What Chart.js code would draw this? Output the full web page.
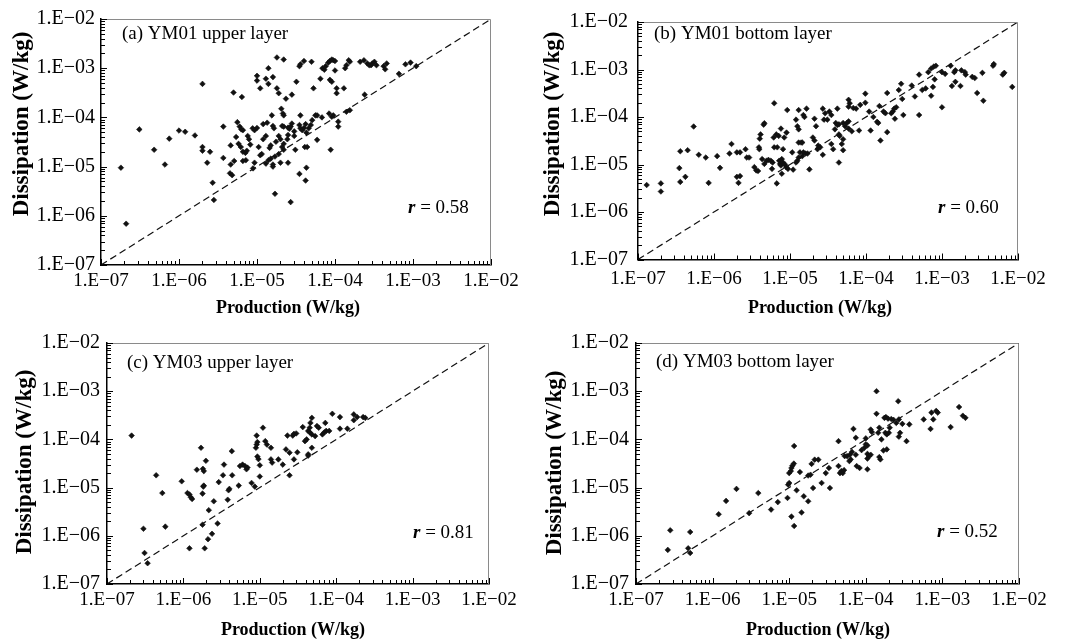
<!DOCTYPE html>
<html><head><meta charset="utf-8">
<script src="https://cdn.jsdelivr.net/npm/chart.js@4.4.1/dist/chart.umd.min.js"></script>
<style>
html,body{margin:0;padding:0;background:#fff;}
#wrap{position:relative;width:1069px;height:641px;overflow:hidden;background:#fff;}
canvas{position:absolute;left:0;top:0;}
</style></head><body><div id="wrap">
<canvas id="c0" width="1069" height="641"></canvas>
<canvas id="c1" width="1069" height="641"></canvas>
<canvas id="c2" width="1069" height="641"></canvas>
<canvas id="c3" width="1069" height="641"></canvas>
</div>
<script>
// ---------- data ----------
const tickLabels = ['1.E\u221207','1.E\u221206','1.E\u221205','1.E\u221204','1.E\u221203','1.E\u221202'];
const panelTitles = ['(a) YM01 upper layer','(b) YM01 bottom layer','(c) YM03 upper layer','(d) YM03 bottom layer'];
const rValues = ['0.58','0.60','0.81','0.52'];
const xAxisTitle = 'Production (W/kg)';
const yAxisTitle = 'Dissipation (W/kg)';
const oneToOne = [1e-7, 1e-2];

const ym01Upper = [
[1.8e-7,9.5e-6],[2.1e-7,6.9e-7],[3.1e-7,5.7e-5],[4.8e-7,2.2e-5],[6.6e-7,1.1e-5],[7.5e-7,3.7e-5],[1.0e-6,5.4e-5],[1.2e-6,5.1e-5],[1.6e-6,4.3e-5],[2.0e-6,4.8e-4],[2.0e-6,2.5e-5],[2.0e-6,2.1e-5],[2.3e-6,1.2e-5],[2.5e-6,2.0e-5],[2.7e-6,4.7e-6],[2.8e-6,2.1e-6],[3.7e-6,6.5e-5],[3.7e-6,1.5e-5],[5.0e-6,3.2e-4],[6.4e-6,2.6e-4],[4.6e-6,2.7e-5],[4.6e-6,1.1e-5],[4.5e-6,7.3e-6],[4.8e-6,6.7e-6],[5.1e-6,1.3e-5],[5.4e-6,4.0e-5],[5.6e-6,8.0e-5],[5.8e-6,2.9e-5],[6.0e-6,6.5e-5],[6.3e-6,5.7e-5],[6.6e-6,5.5e-5],[6.2e-6,2.5e-5],[6.6e-6,2.0e-5],[7.1e-6,1.9e-5],[7.4e-6,2.1e-5],[6.6e-6,1.3e-5],[7.2e-6,1.35e-5],[7.6e-6,4.2e-5],[7.9e-6,3.6e-5],[8.2e-6,2.8e-5],[8.8e-6,6.0e-5],[9.3e-6,5.5e-5],[1.0e-5,6.1e-5],[8.9e-6,9.2e-6],[9.3e-6,1.2e-5],[1.0e-5,7.0e-4],[1.0e-5,5.6e-4],[1.1e-5,3.9e-4],[1.05e-5,2.5e-5],[1.1e-5,1.7e-5],[1.15e-5,1.8e-5],[1.2e-5,3.6e-5],[1.3e-5,4.2e-5],[1.2e-5,7.3e-5],[1.35e-5,7.8e-5],[1.3e-5,6.1e-4],[1.4e-5,4.8e-4],[1.4e-5,1.0e-3],[1.3e-5,1.15e-5],[1.4e-5,1.35e-5],[1.5e-5,1.45e-5],[1.55e-5,1.1e-4],[1.6e-5,6.6e-4],[1.6e-5,6.7e-5],[1.65e-5,6.0e-5],[1.5e-5,2.7e-5],[1.45e-5,2.4e-5],[1.6e-5,1.1e-5],[1.6e-5,1.0e-5],[1.7e-5,1.6e-5],[1.7e-5,2.8e-6],[1.8e-5,1.65e-3],[1.8e-5,3.9e-4],[1.9e-5,3.1e-4],[1.75e-5,3.2e-5],[1.9e-5,4.2e-5],[2.0e-5,3.6e-5],[1.9e-5,1.8e-5],[2.0e-5,1.2e-5],[2.05e-5,1.5e-4],[2.15e-5,1.2e-4],[2.2e-5,1.1e-4],[2.2e-5,1.5e-3],[2.1e-5,6.7e-5],[2.2e-5,6.5e-5],[2.1e-5,2.5e-5],[2.2e-5,2.2e-5],[2.2e-5,2.9e-5],[2.35e-5,2.4e-4],[2.5e-5,6.2e-5],[2.6e-5,5.9e-5],[2.7e-5,6.5e-5],[2.5e-5,4.4e-5],[2.45e-5,3.6e-5],[2.5e-5,1.2e-5],[2.7e-5,1.9e-6],[2.8e-5,2.9e-4],[2.8e-5,7.5e-5],[3.0e-5,5.2e-5],[3.0e-5,4.2e-5],[3.1e-5,2.2e-5],[3.2e-5,5.3e-4],[3.5e-5,7.1e-6],[3.5e-5,1.1e-3],[3.6e-5,1.2e-3],[3.6e-5,1.1e-4],[3.5e-5,7.0e-5],[3.6e-5,6.0e-5],[3.8e-5,5.5e-5],[4.0e-5,6.1e-5],[4.2e-5,7.3e-5],[4.0e-5,1.4e-3],[4.1e-5,2.5e-5],[4.4e-5,2.5e-5],[4.2e-5,5.2e-6],[4.3e-5,9.5e-6],[4.3e-5,4.9e-5],[4.6e-5,6.0e-5],[4.9e-5,7.0e-5],[5.1e-5,8.8e-5],[5.0e-5,1.35e-3],[5.3e-5,3.9e-4],[5.6e-5,1.1e-4],[5.9e-5,1.1e-4],[5.9e-5,3.5e-5],[6.5e-5,6.1e-4],[6.8e-5,1.0e-4],[6.9e-5,1.0e-3],[7.3e-5,9.3e-4],[7.6e-5,1.1e-3],[8.2e-5,1.3e-3],[8.6e-5,1.4e-3],[9.1e-5,1.5e-3],[9.5e-5,1.45e-3],[1.0e-4,1.4e-3],[8.6e-5,5.8e-4],[9.1e-5,5.3e-4],[8.4e-5,1.2e-4],[9.1e-5,1.03e-4],[9.5e-5,1.1e-4],[8.8e-5,2.2e-5],[1.0e-4,9.0e-4],[1.05e-4,3.9e-4],[1.05e-4,3.1e-4],[1.1e-4,8.2e-5],[1.1e-4,6.5e-5],[1.3e-4,3.9e-4],[1.35e-4,1.0e-3],[1.4e-4,1.15e-3],[1.5e-4,1.45e-3],[1.55e-4,1.35e-3],[1.4e-4,1.3e-4],[1.55e-4,1.4e-4],[2.1e-4,1.35e-3],[2.35e-4,1.45e-3],[2.6e-4,1.25e-3],[2.75e-4,1.15e-3],[2.9e-4,1.15e-3],[3.0e-4,1.25e-3],[3.2e-4,1.35e-3],[3.4e-4,1.15e-3],[2.4e-4,2.9e-4],[4.2e-4,1.1e-3],[4.6e-4,1.25e-3],[4.4e-4,9.5e-4],[6.6e-4,7.7e-4],[8.0e-4,1.2e-3],[9.3e-4,1.3e-3],[1.1e-3,1.1e-3]
];

const ym01Bottom = [
[1.3e-7,3.7e-6],[2.0e-7,4.0e-6],[2.0e-7,2.7e-6],[3.5e-7,8.4e-6],[3.6e-7,1.9e-5],[3.6e-7,4.3e-6],[4.2e-7,5.5e-6],[4.5e-7,2.0e-5],[5.4e-7,6.3e-5],[6.3e-7,1.6e-5],[7.8e-7,1.4e-5],[8.5e-7,4.1e-6],[1.1e-6,1.5e-5],[1.2e-6,8.5e-6],[1.6e-6,1.7e-5],[1.7e-6,2.7e-5],[2.0e-6,1.8e-5],[2.0e-6,5.5e-6],[2.1e-6,4.1e-6],[2.2e-6,5.7e-6],[2.2e-6,1.8e-5],[2.6e-6,2.1e-5],[2.7e-6,1.4e-5],[2.9e-6,1.4e-5],[3.4e-6,8.8e-6],[3.6e-6,7.5e-6],[3.8e-6,7.3e-6],[3.9e-6,2.3e-5],[4.0e-6,3.5e-5],[4.1e-6,4.3e-5],[3.95e-6,2.1e-5],[4.5e-6,6.9e-5],[4.6e-6,7.4e-5],[4.3e-6,1.3e-5],[4.6e-6,1.03e-5],[4.9e-6,1.2e-5],[5.2e-6,1.25e-5],[5.6e-6,1.2e-5],[5.9e-6,1.1e-5],[5.8e-6,8.1e-6],[6.2e-6,1.95e-4],[6.1e-6,3.7e-5],[6.6e-6,4.3e-5],[7.1e-6,4.0e-5],[6.2e-6,2.3e-5],[6.8e-6,2.3e-5],[6.7e-6,4.0e-6],[7.2e-6,1.2e-5],[7.4e-6,1.03e-5],[7.6e-6,9.5e-6],[8.1e-6,1.1e-5],[8.6e-6,1.0e-5],[7.8e-6,1.3e-5],[7.6e-6,5.7e-5],[7.8e-6,6.4e-6],[8.1e-6,2.1e-5],[8.4e-6,3.7e-5],[9.0e-6,4.7e-5],[9.2e-6,1.4e-4],[8.9e-6,8.8e-6],[9.4e-6,8.1e-6],[1.1e-5,7.8e-6],[1.07e-5,1.8e-5],[1.2e-5,1.1e-5],[1.25e-5,1.2e-5],[1.3e-5,1.4e-5],[1.2e-5,8.8e-5],[1.25e-5,6.4e-5],[1.3e-5,5.5e-5],[1.3e-5,1.4e-4],[1.3e-5,2.9e-5],[1.4e-5,2.9e-5],[1.45e-5,2.9e-5],[1.35e-5,1.8e-5],[1.45e-5,1.5e-5],[1.5e-5,1.1e-4],[1.55e-5,1.0e-4],[1.5e-5,1.8e-5],[1.6e-5,1.7e-5],[1.7e-5,1.7e-5],[1.65e-5,1.5e-4],[1.8e-5,7.9e-6],[2.0e-5,3.7e-5],[2.1e-5,3.2e-5],[2.1e-5,9.2e-5],[2.2e-5,6.4e-5],[2.3e-5,2.1e-5],[2.35e-5,2.5e-5],[2.5e-5,2.3e-5],[2.7e-5,1.6e-5],[2.7e-5,1.5e-4],[2.9e-5,1.2e-4],[2.8e-5,8.8e-5],[3.1e-5,8.8e-5],[3.3e-5,1.3e-4],[3.5e-5,1.1e-4],[3.5e-5,2.7e-5],[3.7e-5,2.1e-5],[3.9e-5,5.5e-5],[4.0e-5,7.5e-5],[4.2e-5,6.8e-5],[4.4e-5,7.0e-5],[4.2e-5,1.5e-4],[4.4e-5,4.3e-5],[4.5e-5,4.0e-5],[4.4e-5,1.1e-5],[4.8e-5,2.7e-5],[5.0e-5,2.0e-5],[5.0e-5,3.4e-5],[5.0e-5,7.5e-5],[5.3e-5,6.4e-5],[5.6e-5,7.5e-5],[5.9e-5,8.1e-5],[5.9e-5,5.7e-5],[5.9e-5,2.3e-4],[6.1e-5,1.95e-4],[5.9e-5,1.65e-4],[6.5e-5,5.0e-5],[6.8e-5,1.55e-4],[7.4e-5,1.5e-4],[8.1e-5,5.2e-5],[8.4e-5,1.8e-4],[9.8e-5,3.1e-4],[9.8e-5,2.0e-4],[1.1e-4,1.3e-4],[1.15e-4,5.2e-5],[1.25e-4,1.0e-4],[1.4e-4,7.9e-5],[1.45e-4,7.5e-5],[1.5e-4,1.7e-4],[1.55e-4,3.2e-5],[1.7e-4,1.3e-4],[1.8e-4,1.2e-4],[1.9e-4,3.2e-4],[1.9e-4,4.8e-5],[2.15e-4,1.2e-4],[2.25e-4,1.3e-4],[2.35e-4,1.5e-4],[2.4e-4,9.2e-5],[2.5e-4,1.6e-4],[2.7e-4,3.7e-4],[2.9e-4,5.0e-4],[3.0e-4,2.4e-4],[3.1e-4,1.1e-4],[4.0e-4,4.6e-4],[4.4e-4,2.7e-4],[5.0e-4,1.1e-4],[5.0e-4,7.8e-4],[5.5e-4,3.7e-4],[6.1e-4,4.0e-4],[6.6e-4,8.8e-4],[7.2e-4,1.05e-3],[7.8e-4,1.15e-3],[7.2e-4,2.8e-4],[7.6e-4,4.3e-4],[8.0e-4,6.2e-4],[8.3e-4,1.2e-3],[1.0e-3,8.8e-4],[1.1e-3,8.1e-4],[1.0e-3,1.6e-4],[1.3e-3,1.2e-3],[1.35e-3,4.5e-4],[1.45e-3,8.8e-4],[1.5e-3,5.5e-4],[1.5e-3,9.6e-4],[1.75e-3,4.5e-4],[1.8e-3,9.6e-4],[2.0e-3,8.8e-4],[2.05e-3,7.8e-4],[2.5e-3,7.0e-4],[2.7e-3,6.6e-4],[2.9e-3,3.2e-4],[3.4e-3,8.5e-4],[3.5e-3,2.2e-4],[4.7e-3,1.2e-3],[4.8e-3,1.3e-3],[6.3e-3,7.8e-4],[6.6e-3,8.5e-4],[8.4e-3,4.3e-4]
];

const ym03Upper = [
[2.1e-7,1.2e-4],[3.0e-7,1.4e-6],[3.1e-7,4.4e-7],[3.4e-7,2.7e-7],[4.4e-7,1.8e-5],[5.3e-7,7.7e-6],[5.8e-7,1.55e-6],[9.5e-7,1.35e-5],[1.13e-6,7.7e-6],[1.2e-6,7.2e-6],[1.25e-6,6.3e-6],[1.3e-6,5.8e-6],[1.2e-6,5.5e-7],[1.5e-6,2.35e-5],[1.7e-6,6.7e-5],[1.8e-6,2.45e-5],[1.85e-6,2.2e-5],[1.82e-6,1.05e-5],[1.85e-6,1.1e-5],[1.78e-6,7.5e-6],[1.78e-6,1.7e-6],[1.9e-6,5.5e-7],[1.97e-6,3.6e-5],[2.1e-6,8.5e-7],[2.15e-6,3.4e-6],[2.37e-6,1.1e-6],[2.5e-6,5.2e-6],[2.8e-6,1.8e-6],[2.9e-6,1.3e-5],[3.3e-6,1.8e-5],[3.4e-6,3.0e-5],[3.8e-6,5.6e-6],[3.9e-6,8.8e-6],[4.0e-6,9.4e-6],[4.3e-6,5.7e-5],[4.35e-6,1.8e-5],[5.3e-6,1.1e-5],[5.5e-6,2.8e-5],[5.95e-6,3.0e-5],[6.4e-6,2.8e-5],[6.7e-6,2.4e-5],[6.9e-6,2.6e-5],[7.8e-6,1.25e-5],[8.6e-6,1.05e-5],[8.9e-6,6.7e-5],[9.1e-6,7.8e-5],[9.3e-6,8.8e-5],[9.1e-6,1.2e-4],[9.3e-6,4.4e-5],[9.6e-6,3.9e-5],[1.0e-5,2.9e-5],[1.0e-5,1.7e-5],[1.1e-5,1.75e-4],[1.18e-5,9.2e-5],[1.24e-5,7.8e-5],[1.4e-5,6.7e-5],[1.4e-5,3.85e-5],[1.45e-5,3.3e-5],[1.75e-5,3.85e-5],[2.0e-5,3.0e-5],[2.2e-5,6.2e-5],[2.3e-5,1.2e-4],[2.45e-5,5.3e-5],[2.45e-5,1.8e-5],[2.7e-5,1.2e-4],[2.8e-5,1.3e-4],[3.0e-5,1.33e-4],[2.8e-5,3.85e-5],[3.1e-5,5.4e-5],[3.65e-5,1.8e-4],[3.9e-5,9.2e-5],[4.1e-5,1.0e-4],[4.3e-5,4.9e-5],[4.3e-5,4.6e-5],[4.3e-5,1.5e-4],[4.5e-5,1.75e-4],[4.6e-5,2.2e-4],[4.8e-5,2.8e-4],[4.5e-5,1.4e-4],[4.8e-5,1.27e-4],[4.8e-5,6.7e-5],[5.3e-5,1.17e-4],[5.6e-5,1.9e-4],[5.9e-5,1.75e-4],[6.6e-5,1.27e-4],[7.0e-5,1.4e-4],[7.4e-5,1.5e-4],[7.2e-5,2.2e-4],[8.1e-5,1.5e-4],[8.9e-5,3.4e-4],[1.12e-4,2.9e-4],[1.12e-4,1.67e-4],[1.4e-4,1.67e-4],[1.7e-4,3.3e-4],[1.7e-4,2.5e-4],[1.88e-4,2.9e-4],[2.25e-4,2.9e-4],[2.4e-4,2.8e-4]
];

const ym03Bottom = [
[2.6e-7,5.1e-7],[2.8e-7,1.3e-6],[4.8e-7,5.5e-7],[5.1e-7,4.4e-7],[5.1e-7,1.2e-6],[1.2e-6,2.8e-6],[1.5e-6,5.3e-6],[2.05e-6,9.4e-6],[3.0e-6,2.95e-6],[3.95e-6,7.7e-6],[5.8e-6,3.5e-6],[7.1e-6,5.0e-6],[9.5e-6,6.1e-6],[9.7e-6,1.15e-5],[1.0e-5,1.25e-5],[1.0e-5,2.0e-5],[1.05e-5,2.2e-5],[1.07e-5,2.55e-5],[1.1e-5,2.85e-5],[1.15e-5,3.15e-5],[1.07e-5,2.5e-6],[1.16e-5,7.3e-5],[1.16e-5,1.6e-6],[1.25e-5,8.8e-6],[1.38e-5,2.1e-5],[1.45e-5,3.05e-6],[1.55e-5,6.6e-6],[1.77e-5,5.2e-6],[1.77e-5,1.78e-5],[1.9e-5,1.85e-5],[1.96e-5,3.1e-5],[2.05e-5,9.8e-6],[2.15e-5,3.8e-5],[2.4e-5,3.8e-5],[2.65e-5,1.25e-5],[3.0e-5,2.0e-5],[3.3e-5,2.55e-5],[3.4e-5,9.8e-6],[4.4e-5,9.2e-5],[4.4e-5,2.8e-5],[4.6e-5,2.0e-5],[4.8e-5,2.2e-5],[5.0e-5,2.0e-5],[5.2e-5,2.3e-5],[5.3e-5,4.5e-5],[5.7e-5,4.5e-5],[6.2e-5,4.8e-5],[6.6e-5,5.5e-5],[6.1e-5,3.55e-5],[6.35e-5,3.85e-5],[6.9e-5,1.65e-4],[7.4e-5,1.08e-4],[7.4e-5,4.8e-5],[7.6e-5,2.8e-5],[8.3e-5,2.55e-5],[8.8e-5,6.0e-5],[9.6e-5,6.7e-5],[1.0e-4,7.9e-5],[1.05e-4,7.5e-5],[1.0e-4,1.05e-4],[1.05e-4,5.0e-5],[1.1e-4,4.5e-5],[1.16e-4,4.8e-5],[1.05e-4,2.4e-5],[1.05e-4,4.0e-5],[1.16e-4,1.6e-4],[1.2e-4,1.42e-4],[1.38e-4,1.0e-3],[1.38e-4,3.4e-4],[1.45e-4,1.37e-4],[1.5e-4,4.3e-5],[1.55e-4,3.85e-5],[1.5e-4,1.75e-4],[1.6e-4,1.0e-4],[1.7e-4,5.9e-5],[1.8e-4,1.37e-4],[1.88e-4,1.27e-4],[1.75e-4,2.8e-4],[1.83e-4,2.9e-4],[1.95e-4,2.7e-4],[1.88e-4,6.2e-5],[2.0e-4,1.37e-4],[2.05e-4,1.75e-4],[2.15e-4,2.65e-4],[2.3e-4,2.55e-4],[2.5e-4,2.2e-4],[2.7e-4,2.6e-4],[2.65e-4,6.2e-4],[2.7e-4,1.14e-4],[2.8e-4,1.37e-4],[3.0e-4,2.1e-4],[3.4e-4,9.2e-5],[3.7e-4,2.05e-4],[5.7e-4,2.6e-4],[7.0e-4,1.65e-4],[7.2e-4,3.6e-4],[7.6e-4,2.6e-4],[8.3e-4,3.9e-4],[8.7e-4,3.6e-4],[1.28e-3,1.8e-4],[1.65e-3,4.7e-4],[1.85e-3,3.1e-4],[2.0e-3,2.8e-4]
];

const panelData = [ym01Upper, ym01Bottom, ym03Upper, ym03Bottom];

// ---------- layout (pixels) ----------
const layoutSpec = [
  {l:101, r:491,  t:19,  b:265,   yPad:6,  xPad:4.6, title:[122,34],  rPos:[408,208], xt:[288,308], yt:[22.5,124]},
  {l:638, r:1018, t:19,  b:259.5, yPad:10, xPad:8.6, title:[654,34],  rPos:[938,208], xt:[820,308], yt:[553,124]},
  {l:107, r:489,  t:343, b:584,   yPad:7,  xPad:4.6, title:[127,363], rPos:[413,533], xt:[293,630], yt:[25,462]},
  {l:636, r:1019, t:343, b:584,   yPad:7,  xPad:4.6, title:[656,362], rPos:[937,532], xt:[818,630], yt:[555,463]}
];
const W = 1069, H = 641, YAXW = 90, XAXH = 40;
const FONT = '"Liberation Serif", "Times New Roman", serif';

function logTicks() {
  const out = [];
  for (let e = -7; e <= -3; e++) for (let m = 1; m <= 9; m++) out.push(Number(m + 'e' + e));
  out.push(1e-2);
  return out.map(v => ({value: v}));
}
function decadeIndex(v) {
  const e = Math.log10(v), r = Math.round(e);
  return Math.abs(e - r) < 1e-9 ? r + 7 : -1;
}

const framePlugin = {
  id: 'frame',
  afterDraw(chart, args, opts) {
    const ctx = chart.ctx, ca = chart.chartArea, xs = chart.scales.x, ys = chart.scales.y;
    const i = opts.index, L = layoutSpec[i];
    ctx.save();
    ctx.strokeStyle = '#8a8a8a'; ctx.lineWidth = 1;
    ctx.beginPath();
    ctx.moveTo(ca.left, ca.top + 0.5); ctx.lineTo(ca.right - 0.5, ca.top + 0.5); ctx.lineTo(ca.right - 0.5, ca.bottom);
    ctx.stroke();
    ctx.strokeStyle = '#000'; ctx.lineWidth = 1;
    ctx.beginPath();
    xs.ticks.forEach(t => {
      const px = Math.round(xs.getPixelForValue(t.value)) + 0.5;
      const len = decadeIndex(t.value) >= 0 ? 6 : 4;
      ctx.moveTo(px, ca.bottom); ctx.lineTo(px, ca.bottom - len);
    });
    ys.ticks.forEach(t => {
      const py = Math.round(ys.getPixelForValue(t.value)) + 0.5;
      const len = decadeIndex(t.value) >= 0 ? 6 : 4;
      ctx.moveTo(ca.left, py); ctx.lineTo(ca.left + len, py);
    });
    ctx.stroke();
    ctx.fillStyle = '#000'; ctx.textBaseline = 'middle'; ctx.textAlign = 'left';
    ctx.font = '19px ' + FONT;
    ctx.fillText(panelTitles[i], L.title[0], L.title[1]);
    ctx.font = 'italic bold 19px ' + FONT;
    ctx.fillText('r', L.rPos[0], L.rPos[1]);
    const rw = ctx.measureText('r').width;
    ctx.font = '19px ' + FONT;
    ctx.fillText(' = ' + rValues[i], L.rPos[0] + rw, L.rPos[1]);
    ctx.textAlign = 'center';
    ctx.font = 'bold 18px ' + FONT;
    ctx.fillText(xAxisTitle, L.xt[0], L.xt[1]);
    ctx.translate(L.yt[0], L.yt[1]);
    ctx.rotate(-Math.PI / 2);
    ctx.font = 'bold 23px ' + FONT;
    ctx.fillText(yAxisTitle, 0, 0);
    ctx.restore();
  }
};

layoutSpec.forEach((L, i) => {
  const pts = panelData[i].map(p => ({x: p[0], y: p[1]}));
  new Chart(document.getElementById('c' + i), {
    type: 'scatter',
    data: {
      datasets: [
        {
          type: 'line',
          data: [{x: oneToOne[0], y: oneToOne[0]}, {x: oneToOne[1], y: oneToOne[1]}],
          borderColor: '#111', borderWidth: 1.2, borderDash: [7, 4],
          pointRadius: 0, fill: false, tension: 0
        },
        {
          type: 'scatter',
          data: pts,
          pointStyle: 'rectRot', pointRadius: 2.8,
          backgroundColor: '#111', borderColor: '#111', borderWidth: 0.6
        }
      ]
    },
    options: {
      responsive: false, animation: false, devicePixelRatio: 1,
      layout: { padding: { left: L.l - YAXW, top: L.t, right: W - L.r, bottom: H - L.b - XAXH } },
      plugins: { legend: {display: false}, tooltip: {enabled: false}, frame: {index: i} },
      scales: {
        x: {
          type: 'logarithmic', min: 1e-7, max: 1e-2, position: 'bottom',
          afterBuildTicks: s => { s.ticks = logTicks(); },
          afterFit: s => { s.height = XAXH; },
          grid: {display: false, drawTicks: false},
          border: {display: true, color: '#000', width: 1.5},
          ticks: {
            autoSkip: false, maxRotation: 0, minRotation: 0, padding: L.xPad,
            color: '#000', font: {family: FONT, size: 19},
            callback: v => { const k = decadeIndex(v); return k >= 0 ? tickLabels[k] : ''; }
          }
        },
        y: {
          type: 'logarithmic', min: 1e-7, max: 1e-2, position: 'left',
          afterBuildTicks: s => { s.ticks = logTicks(); },
          afterFit: s => { s.width = YAXW; },
          grid: {display: false, drawTicks: false},
          border: {display: true, color: '#000', width: 1.5},
          ticks: {
            autoSkip: false, padding: L.yPad,
            color: '#000', font: {family: FONT, size: 20},
            callback: v => { const k = decadeIndex(v); return k >= 0 ? tickLabels[k] : ''; }
          }
        }
      }
    },
    plugins: [framePlugin]
  });
});
</script>
</body></html>
